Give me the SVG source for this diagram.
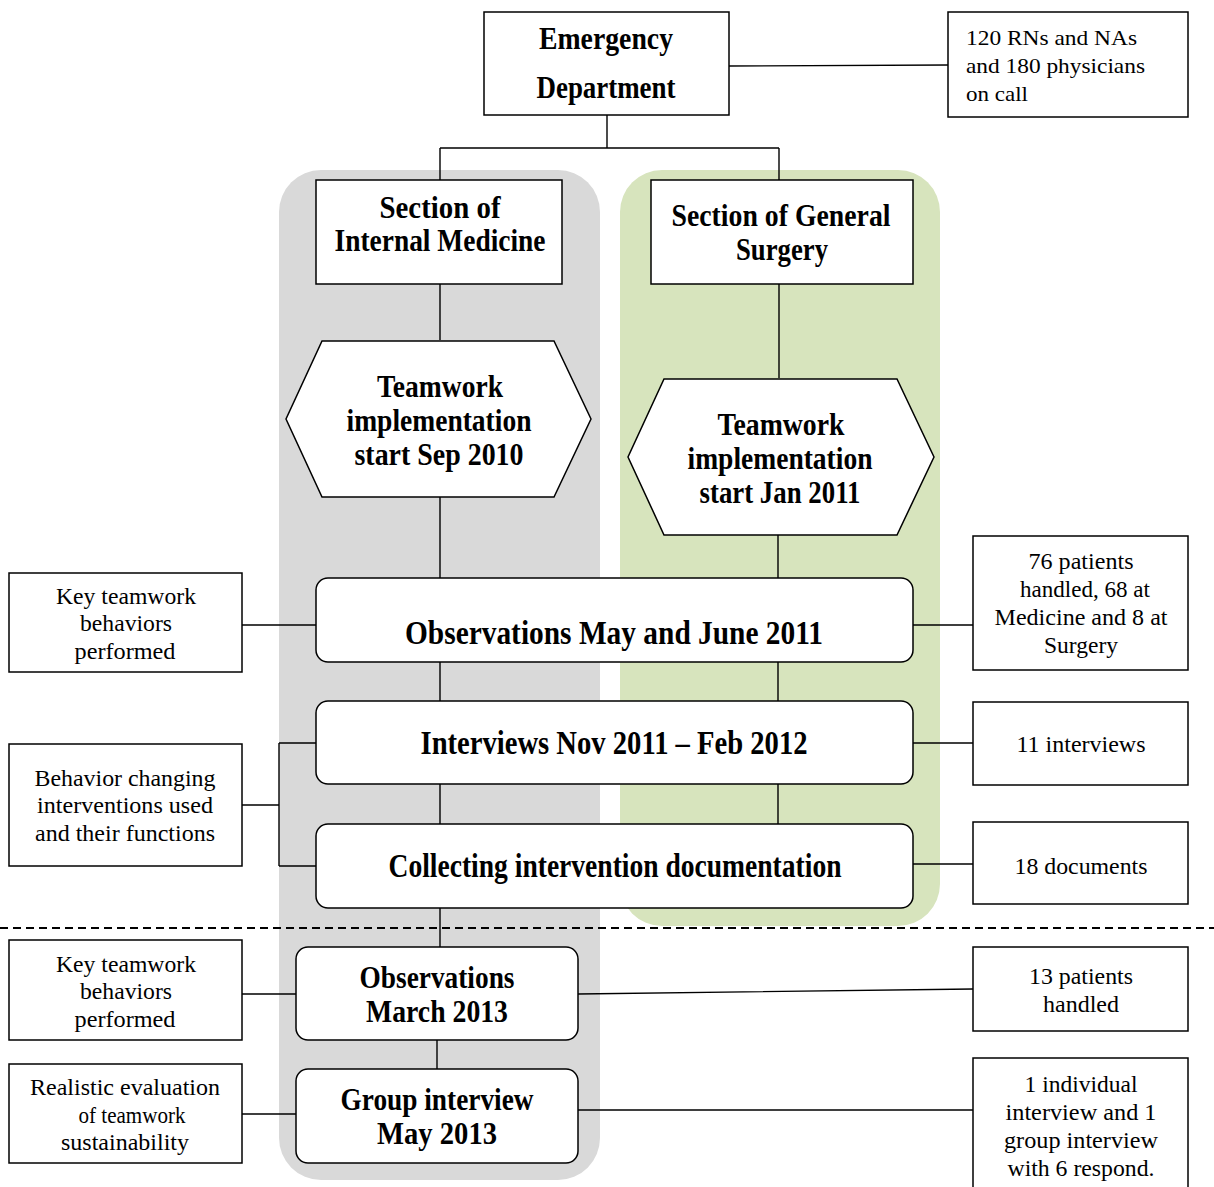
<svg xmlns="http://www.w3.org/2000/svg" width="1214" height="1187" viewBox="0 0 1214 1187">
  <style>
    .box { fill: #ffffff; stroke: #000000; stroke-width: 1.5; }
    .ln { fill: none; stroke: #000000; stroke-width: 1.4; }
    .b { font-family: "Liberation Serif", "Times New Roman", serif; font-weight: bold; fill: #000000; text-anchor: middle; }
    .r { font-family: "Liberation Serif", "Times New Roman", serif; font-size: 22.5px; fill: #000000; text-anchor: middle; }
    .rl { font-family: "Liberation Serif", "Times New Roman", serif; font-size: 21px; fill: #000000; }
  </style>

  <!-- section backgrounds -->
  <rect x="279" y="170" width="321" height="1010" rx="42" fill="#d9d9d9"/>
  <rect x="620" y="170" width="320" height="756" rx="42" fill="#d7e4bd"/>

  <!-- divider between phases -->
  <line x1="0" y1="928" x2="1214" y2="928" stroke="#000" stroke-width="2" stroke-dasharray="8 5"/>

  <!-- connectors -->
  <g id="connectors" class="ln">
    <path d="M729 66 L948 65"/>
    <path d="M607 115 V148 M440 148 H779 M440 148 V180 M779 148 V180"/>
    <path d="M440 284 V340 M779 284 V378"/>
    <path d="M440 497 V578 M778 535 V578"/>
    <path d="M242 625 H316 M913 625 H973"/>
    <path d="M440 662 V701 M778 662 V701"/>
    <path d="M913 743 H973"/>
    <path d="M242 805 H279 M279 743 V866 M279 743 H316 M279 866 H316"/>
    <path d="M440 784 V824 M778 784 V824"/>
    <path d="M913 864 H973"/>
    <path d="M440 908 V947"/>
    <path d="M242 994 H296 M578 994 L973 989"/>
    <path d="M437 1040 V1069"/>
    <path d="M242 1114 H296 M578 1110 H973"/>
  </g>

  <g id="emergency-department">
    <rect class="box" x="484" y="12" width="245" height="103"/>
    <text class="b" font-size="31" x="606" y="49" textLength="134" lengthAdjust="spacingAndGlyphs">Emergency</text>
    <text class="b" font-size="31" x="606" y="98" textLength="139" lengthAdjust="spacingAndGlyphs">Department</text>
  </g>

  <g id="staff">
    <rect class="box" x="948" y="12" width="240" height="105"/>
    <text class="rl" x="966" y="45" textLength="171" lengthAdjust="spacingAndGlyphs">120 RNs and NAs</text>
    <text class="rl" x="966" y="73" textLength="179" lengthAdjust="spacingAndGlyphs">and 180 physicians</text>
    <text class="rl" x="966" y="101" textLength="62" lengthAdjust="spacingAndGlyphs">on call</text>
  </g>

  <g id="internal-medicine">
    <rect class="box" x="316" y="180" width="246" height="104"/>
    <text class="b" font-size="31" x="440" y="218" textLength="121" lengthAdjust="spacingAndGlyphs">Section of</text>
    <text class="b" font-size="31" x="440" y="251" textLength="211" lengthAdjust="spacingAndGlyphs">Internal Medicine</text>
  </g>

  <g id="general-surgery">
    <rect class="box" x="651" y="180" width="262" height="104"/>
    <text class="b" font-size="31" x="781" y="226" textLength="219" lengthAdjust="spacingAndGlyphs">Section of General</text>
    <text class="b" font-size="31" x="782" y="260" textLength="92" lengthAdjust="spacingAndGlyphs">Surgery</text>
  </g>

  <g id="teamwork-medicine">
    <polygon class="box" points="322,341 554,341 591,419 554,497 322,497 286,419"/>
    <text class="b" font-size="31" x="440" y="397" textLength="126" lengthAdjust="spacingAndGlyphs">Teamwork</text>
    <text class="b" font-size="31" x="439" y="431" textLength="185" lengthAdjust="spacingAndGlyphs">implementation</text>
    <text class="b" font-size="31" x="439" y="465" textLength="169" lengthAdjust="spacingAndGlyphs">start Sep 2010</text>
  </g>

  <g id="teamwork-surgery">
    <polygon class="box" points="664,379 897,379 934,457 897,535 664,535 628,457"/>
    <text class="b" font-size="31" x="781" y="435" textLength="127" lengthAdjust="spacingAndGlyphs">Teamwork</text>
    <text class="b" font-size="31" x="780" y="469" textLength="185" lengthAdjust="spacingAndGlyphs">implementation</text>
    <text class="b" font-size="31" x="780" y="503" textLength="161" lengthAdjust="spacingAndGlyphs">start Jan 2011</text>
  </g>

  <g id="observations-2011">
    <rect class="box" x="316" y="578" width="597" height="84" rx="12"/>
    <text class="b" font-size="33" x="614" y="644" textLength="418" lengthAdjust="spacingAndGlyphs">Observations May and June 2011</text>
  </g>

  <g id="behaviors-2011">
    <rect class="box" x="9" y="573" width="233" height="99"/>
    <text class="r" x="126" y="604" textLength="140" lengthAdjust="spacingAndGlyphs">Key teamwork</text>
    <text class="r" x="126" y="631" textLength="92" lengthAdjust="spacingAndGlyphs">behaviors</text>
    <text class="r" x="125" y="659" textLength="101" lengthAdjust="spacingAndGlyphs">performed</text>
  </g>

  <g id="patients-2011">
    <rect class="box" x="973" y="536" width="215" height="134"/>
    <text class="r" x="1081" y="569" textLength="105" lengthAdjust="spacingAndGlyphs">76 patients</text>
    <text class="r" x="1085" y="597" textLength="130" lengthAdjust="spacingAndGlyphs">handled, 68 at</text>
    <text class="r" x="1081" y="625" textLength="173" lengthAdjust="spacingAndGlyphs">Medicine and 8 at</text>
    <text class="r" x="1081" y="653" textLength="74" lengthAdjust="spacingAndGlyphs">Surgery</text>
  </g>

  <g id="interviews">
    <rect class="box" x="316" y="701" width="597" height="83" rx="12"/>
    <text class="b" font-size="33" x="614" y="754" textLength="387" lengthAdjust="spacingAndGlyphs">Interviews Nov 2011 – Feb 2012</text>
  </g>

  <g id="interview-count">
    <rect class="box" x="973" y="702" width="215" height="83"/>
    <text class="r" x="1081" y="752" textLength="129" lengthAdjust="spacingAndGlyphs">11 interviews</text>
  </g>

  <g id="interventions">
    <rect class="box" x="9" y="744" width="233" height="122"/>
    <text class="r" x="125" y="786" textLength="181" lengthAdjust="spacingAndGlyphs">Behavior changing</text>
    <text class="r" x="125" y="813" textLength="176" lengthAdjust="spacingAndGlyphs">interventions used</text>
    <text class="r" x="125" y="841" textLength="180" lengthAdjust="spacingAndGlyphs">and their functions</text>
  </g>

  <g id="documentation">
    <rect class="box" x="316" y="824" width="597" height="84" rx="12"/>
    <text class="b" font-size="33" x="615" y="877" textLength="453" lengthAdjust="spacingAndGlyphs">Collecting intervention documentation</text>
  </g>

  <g id="document-count">
    <rect class="box" x="973" y="822" width="215" height="82"/>
    <text class="r" x="1081" y="874" textLength="133" lengthAdjust="spacingAndGlyphs">18 documents</text>
  </g>

  <g id="observations-2013">
    <rect class="box" x="296" y="947" width="282" height="93" rx="12"/>
    <text class="b" font-size="31" x="437" y="988" textLength="155" lengthAdjust="spacingAndGlyphs">Observations</text>
    <text class="b" font-size="31" x="437" y="1022" textLength="142" lengthAdjust="spacingAndGlyphs">March 2013</text>
  </g>

  <g id="behaviors-2013">
    <rect class="box" x="9" y="940" width="233" height="100"/>
    <text class="r" x="126" y="972" textLength="140" lengthAdjust="spacingAndGlyphs">Key teamwork</text>
    <text class="r" x="126" y="999" textLength="92" lengthAdjust="spacingAndGlyphs">behaviors</text>
    <text class="r" x="125" y="1027" textLength="101" lengthAdjust="spacingAndGlyphs">performed</text>
  </g>

  <g id="patients-2013">
    <rect class="box" x="973" y="947" width="215" height="84"/>
    <text class="r" x="1081" y="984" textLength="104" lengthAdjust="spacingAndGlyphs">13 patients</text>
    <text class="r" x="1081" y="1012" textLength="76" lengthAdjust="spacingAndGlyphs">handled</text>
  </g>

  <g id="group-interview">
    <rect class="box" x="296" y="1069" width="282" height="94" rx="12"/>
    <text class="b" font-size="31" x="437" y="1110" textLength="193" lengthAdjust="spacingAndGlyphs">Group interview</text>
    <text class="b" font-size="31" x="437" y="1144" textLength="120" lengthAdjust="spacingAndGlyphs">May 2013</text>
  </g>

  <g id="sustainability">
    <rect class="box" x="9" y="1064" width="233" height="99"/>
    <text class="r" x="125" y="1095" textLength="190" lengthAdjust="spacingAndGlyphs">Realistic evaluation</text>
    <text class="r" x="132" y="1123" textLength="107" lengthAdjust="spacingAndGlyphs">of teamwork</text>
    <text class="r" x="125" y="1150" textLength="128" lengthAdjust="spacingAndGlyphs">sustainability</text>
  </g>

  <g id="respondents">
    <rect class="box" x="973" y="1058" width="215" height="140"/>
    <text class="r" x="1081" y="1092" textLength="113" lengthAdjust="spacingAndGlyphs">1 individual</text>
    <text class="r" x="1081" y="1120" textLength="151" lengthAdjust="spacingAndGlyphs">interview and 1</text>
    <text class="r" x="1081" y="1148" textLength="154" lengthAdjust="spacingAndGlyphs">group interview</text>
    <text class="r" x="1081" y="1176" textLength="147" lengthAdjust="spacingAndGlyphs">with 6 respond.</text>
  </g>
</svg>
